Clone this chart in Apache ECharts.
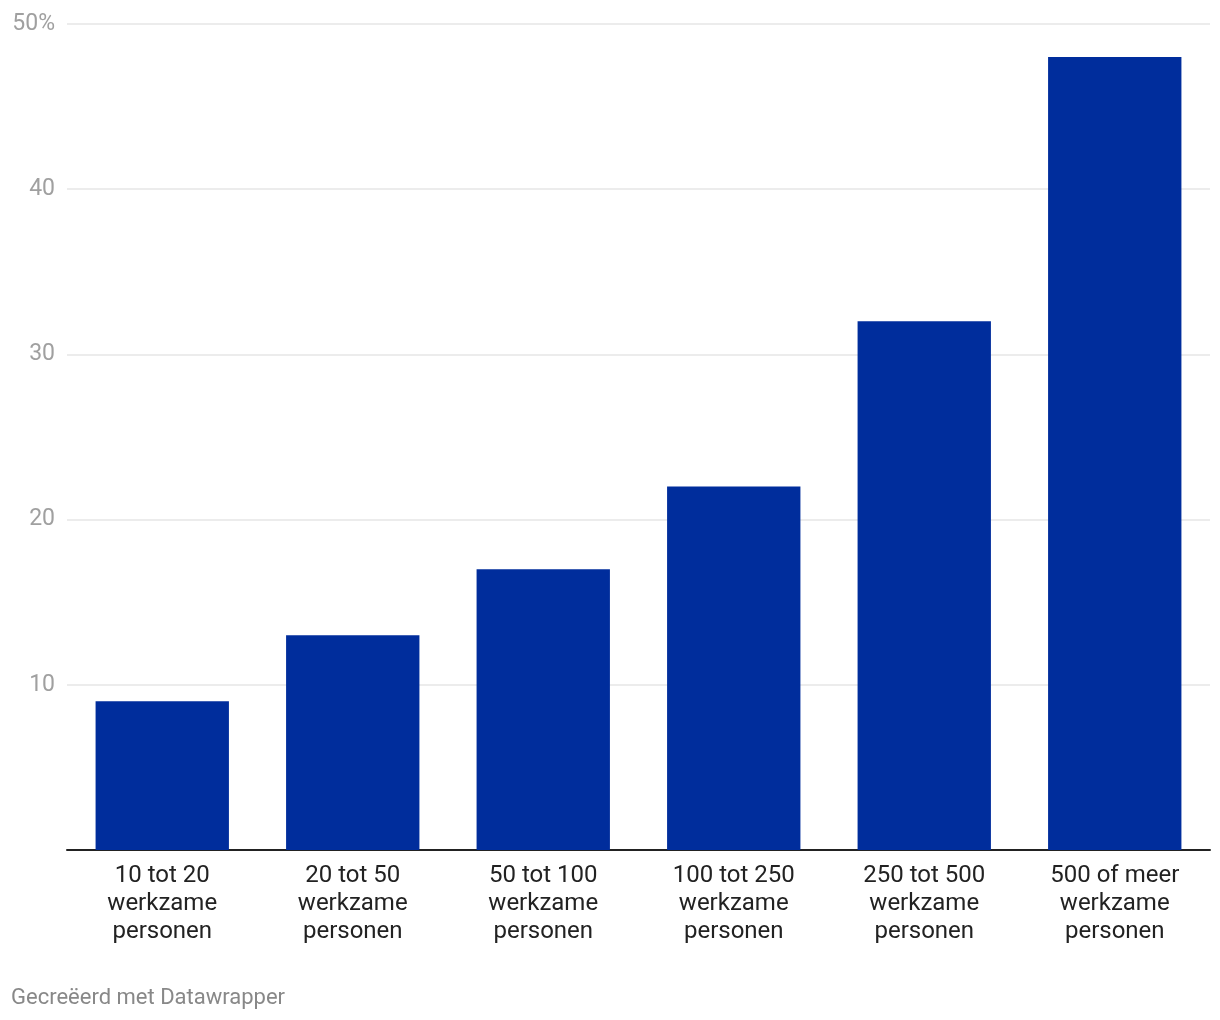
<!DOCTYPE html>
<html>
<head>
<meta charset="utf-8">
<script src="https://cdn.jsdelivr.net/npm/echarts@6/dist/echarts.min.js"></script>
<style>
  html, body { margin: 0; padding: 0; background: #fff; }
  #chart { width: 1220px; height: 1020px; }
</style>
</head>
<body>
<div id="chart"></div>
<script>
// categorieën (bedrijfsgrootte)
const categories = [
  "10 tot 20\nwerkzame\npersonen",
  "20 tot 50\nwerkzame\npersonen",
  "50 tot 100\nwerkzame\npersonen",
  "100 tot 250\nwerkzame\npersonen",
  "250 tot 500\nwerkzame\npersonen",
  "500 of meer\nwerkzame\npersonen"
];
// percentages
const values = [9, 13, 17, 22, 32, 48];
const yTicks = [0, 10, 20, 30, 40, 50];

const myChart = echarts.init(document.getElementById("chart"));
const options = {
  animation: false,
  grid: { left: 67, right: 10, top: 24, bottom: 170, containLabel: false },
  graphic: [
    {
      type: "text",
      left: 11,
      top: 987,
      style: {
        text: "Gecreëerd met Datawrapper",
        font: "22px Roboto",
        fill: "#888888"
      }
    }
  ],
  xAxis: {
    type: "category",
    data: categories,
    axisLine: { lineStyle: { color: "#222222", width: 2 } },
    axisTick: { show: false },
    axisLabel: {
      interval: 0,
      margin: 12,
      fontFamily: "Roboto",
      fontSize: 24,
      lineHeight: 28,
      color: "#222222"
    }
  },
  yAxis: {
    type: "value",
    min: yTicks[0],
    max: yTicks[yTicks.length - 1],
    interval: 10,
    axisLine: { show: false },
    axisTick: { show: false },
    splitLine: { lineStyle: { color: "#e6e6e6", width: 1.5 } },
    axisLabel: {
      margin: 12,
      fontFamily: "Roboto",
      fontSize: 23,
      color: "#a0a0a0",
      padding: [3, 0, 0, 0],
      formatter: (v) => (v === 0 ? "" : v === 50 ? "50%" : String(v))
    }
  },
  series: [
    {
      type: "bar",
      data: values,
      barCategoryGap: "30%",
      itemStyle: { color: "#002d9c" }
    }
  ]
};
myChart.setOption(options);
window.onresize = myChart.resize;
</script>
</body>
</html>
